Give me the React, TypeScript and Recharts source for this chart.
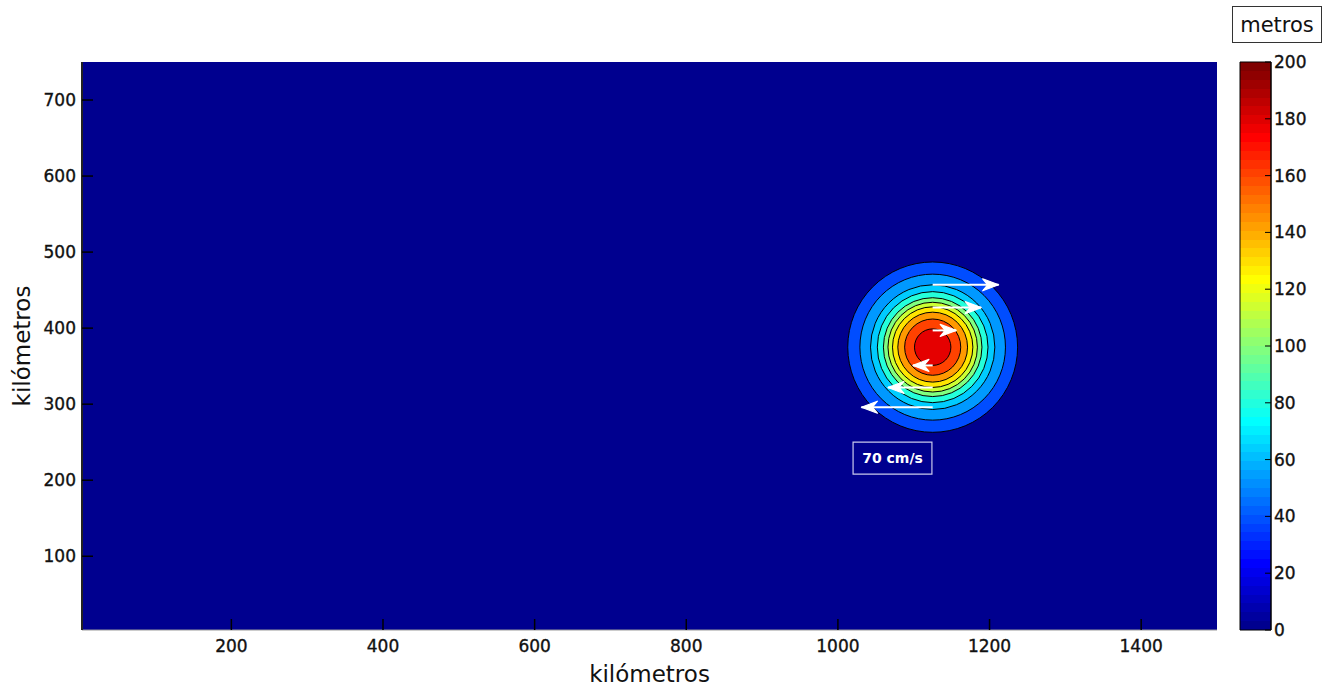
import {
  Bar,
  BarChart,
  Label,
  ReferenceArea,
  Scatter,
  ScatterChart,
  XAxis,
  YAxis,
} from 'recharts';

const X_TICKS = [200, 400, 600, 800, 1000, 1200, 1400];
const Y_TICKS = [100, 200, 300, 400, 500, 600, 700];
const CBAR_TICKS = [0, 20, 40, 60, 80, 100, 120, 140, 160, 180, 200];

// eddy centre (km)
const EDDY_X = 1125;
const EDDY_Y = 375;

// contour radii (km), outermost first, and the height (m) of each band
const RING_RADIUS = [112, 96, 82, 73, 65, 59, 53, 46, 37, 24];
const RING_VALUE = [40, 55, 65, 82, 100, 115, 130, 145, 162, 180];

// velocity arrows: row (km) and tip x (km); tails sit on the eddy centre x
const ARROW_Y = [457, 427, 397, 351, 322, 296];
const ARROW_TIP_X = [1212, 1189, 1156, 1099, 1066, 1031];

// reference box for the velocity scale
const SCALE_BOX_X = [1020, 1124];
const SCALE_BOX_Y = [208, 250];

const X_DOMAIN = [3, 1500];
const Y_DOMAIN = [3, 750];
const Z_MAX = 200;

const FONT = '"DejaVu Sans", Verdana, sans-serif';

// plot box of the main chart (px)
const PLOT_L = 82;
const PLOT_T = 62;
const PLOT_W = 1135;
const PLOT_H = 568;
const KX = PLOT_W / (X_DOMAIN[1] - X_DOMAIN[0]);
const KY = PLOT_H / (Y_DOMAIN[1] - Y_DOMAIN[0]);

const jet = (t: number) => {
  const c = (v: number) => Math.round(255 * Math.max(0, Math.min(1, v)));
  return `rgb(${c(1.5 - Math.abs(4 * t - 3))},${c(1.5 - Math.abs(4 * t - 2))},${c(
    1.5 - Math.abs(4 * t - 1),
  )})`;
};

const BG = jet(1 / 64);

const ringData = RING_RADIUS.map((r, i) => ({ x: EDDY_X, y: EDDY_Y, r, v: RING_VALUE[i] }));

const arrowData = ARROW_Y.map((y, i) => {
  const dir = ARROW_TIP_X[i] > EDDY_X ? 1 : -1;
  return [
    { x: EDDY_X, y, tip: false, dir },
    { x: ARROW_TIP_X[i], y, tip: true, dir },
  ];
});

const CBAR_DATA = [{ name: 'z', v: Z_MAX }];

const tickStyle = { fill: '#111', stroke: '#111', strokeWidth: 0.35, fontSize: 17, fontFamily: FONT };
const tickLine = { stroke: '#000', strokeWidth: 1.5 };
const blank = () => '';

function Ring(props: any) {
  const { cx, cy, payload } = props;
  return (
    <ellipse
      cx={cx}
      cy={cy}
      rx={payload.r * KX}
      ry={payload.r * KY}
      fill={jet(payload.v / Z_MAX)}
      stroke='#000'
      strokeWidth={1}
    />
  );
}

function ArrowHead(props: any) {
  const { cx, cy, payload } = props;
  if (!payload.tip) return <g />;
  const d = payload.dir;
  const pts = `${cx},${cy} ${cx - d * 16},${cy - 6} ${cx - d * 11},${cy} ${cx - d * 16},${cy + 6}`;
  return <polygon points={pts} fill='#fff' stroke='#fff' strokeWidth={1.2} strokeLinejoin='round' />;
}

const stops: JSX.Element[] = [];
for (let i = 0; i < 64; i++) {
  const col = jet((i + 1) / 64);
  stops.push(<stop key={`a${i}`} offset={`${(i / 64) * 100}%`} stopColor={col} />);
  stops.push(<stop key={`b${i}`} offset={`${((i + 1) / 64) * 100}%`} stopColor={col} />);
}

export default function App() {
  return (
    <div
      style={{
        position: 'absolute',
        left: 0,
        top: 0,
        width: 1335,
        height: 686,
        background: '#fff',
        fontFamily: FONT,
      }}
    >
      <div
        style={{
          position: 'absolute',
          left: PLOT_L,
          top: PLOT_T,
          width: PLOT_W,
          height: PLOT_H,
          background: BG,
        }}
      />
      <div style={{ position: 'absolute', left: 0, top: 0 }}>
        <ScatterChart width={1335} height={686} margin={{ top: PLOT_T, right: 118, bottom: 0, left: 0 }}>
          <Scatter data={ringData} shape={Ring} isAnimationActive={false} />
          {arrowData.map((pts, i) => (
            <Scatter
              key={i}
              data={pts}
              line={{ stroke: '#fff', strokeWidth: 2 }}
              shape={ArrowHead}
              isAnimationActive={false}
            />
          ))}
          <ReferenceArea
            x1={SCALE_BOX_X[0]}
            x2={SCALE_BOX_X[1]}
            y1={SCALE_BOX_Y[0]}
            y2={SCALE_BOX_Y[1]}
            fill='none'
            stroke='#c8c8ec'
            strokeWidth={1.2}
          >
            <Label
              value='70 cm/s'
              position='center'
              style={{ fill: '#fff', fontSize: 14, fontWeight: 'bold', fontFamily: FONT }}
            />
          </ReferenceArea>
          <XAxis
            type='number'
            dataKey='x'
            domain={X_DOMAIN}
            ticks={X_TICKS}
            interval={0}
            allowDataOverflow
            height={56}
            axisLine={{ stroke: '#999' }}
            tickLine={tickLine}
            tickSize={-11}
            tickMargin={21}
            tick={tickStyle}
          >
            <Label
              value='kilómetros'
              position='insideBottom'
              offset={4}
              style={{ fill: '#111', fontSize: 23, fontFamily: FONT }}
            />
          </XAxis>
          <YAxis
            type='number'
            dataKey='y'
            domain={Y_DOMAIN}
            ticks={Y_TICKS}
            interval={0}
            allowDataOverflow
            width={82}
            axisLine={{ stroke: '#222', strokeWidth: 2 }}
            tickLine={tickLine}
            tickSize={-11}
            tickMargin={17}
            tick={tickStyle}
          >
            <Label
              value='kilómetros'
              angle={-90}
              position='insideLeft'
              offset={22}
              style={{ fill: '#111', fontSize: 23, fontFamily: FONT, textAnchor: 'middle' }}
            />
          </YAxis>
          <XAxis
            xAxisId='top'
            orientation='top'
            type='number'
            domain={X_DOMAIN}
            ticks={X_TICKS}
            interval={0}
            height={0}
            axisLine={{ stroke: '#888' }}
            tickLine={tickLine}
            tickSize={-11}
            tickFormatter={blank}
          />
          <YAxis
            yAxisId='right'
            orientation='right'
            type='number'
            domain={Y_DOMAIN}
            ticks={Y_TICKS}
            interval={0}
            width={0}
            axisLine={{ stroke: '#333' }}
            tickLine={tickLine}
            tickSize={-11}
            tickFormatter={blank}
          />
        </ScatterChart>
      </div>

      <div style={{ position: 'absolute', left: 1200, top: 0 }}>
        <BarChart
          width={135}
          height={686}
          data={CBAR_DATA}
          margin={{ top: 62, right: 0, bottom: 56, left: 40 }}
          barCategoryGap={0}
        >
          <defs>
            <linearGradient id='jet' x1='0' y1='1' x2='0' y2='0'>
              {stops}
            </linearGradient>
          </defs>
          <XAxis dataKey='name' hide />
          <Bar dataKey='v' fill='url(#jet)' stroke='#000' isAnimationActive={false} />
          <YAxis
            yAxisId='l'
            orientation='left'
            width={0}
            domain={[0, Z_MAX]}
            ticks={CBAR_TICKS}
            interval={0}
            axisLine={false}
            tickLine={{ stroke: '#000' }}
            tickSize={-6}
            tickFormatter={blank}
          />
          <YAxis
            orientation='right'
            width={64}
            domain={[0, Z_MAX]}
            ticks={CBAR_TICKS}
            interval={0}
            axisLine={{ stroke: '#000' }}
            tickLine={{ stroke: '#000' }}
            tickSize={-6}
            tickMargin={9}
            tick={tickStyle}
          />
        </BarChart>
      </div>

      <div
        style={{
          position: 'absolute',
          left: 1232,
          top: 6,
          width: 90,
          height: 37,
          boxSizing: 'border-box',
          border: '1px solid #333',
          fontSize: 21,
          color: '#111',
          display: 'flex',
          alignItems: 'center',
          justifyContent: 'center',
        }}
      >
        metros
      </div>
    </div>
  );
}
